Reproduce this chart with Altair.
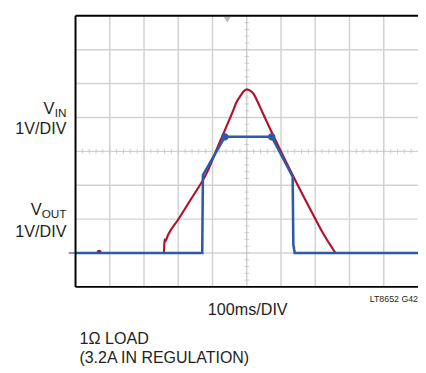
import altair as alt
import pandas as pd
import numpy as np

# Oscilloscope trace data (x in divisions of 100ms, y in divisions of 1V)
vin_x = [0, 0.64, 0.66, 0.72, 0.74, 2.58, 2.60, 2.62, 2.70, 3.0, 3.36, 3.84, 4.2,
         4.59, 4.7, 4.83, 4.9, 5.0, 5.1, 5.2, 5.3, 5.45, 5.9, 6.39, 6.85, 7.24, 7.45, 7.62, 10]
vin_y = [1, 1, 1.06, 1.06, 1, 1, 1.40, 1.34, 1.53, 1.99, 2.57, 3.38, 4.25,
         5.17, 5.45, 5.66, 5.76, 5.83, 5.79, 5.70, 5.5, 5.17, 4.2, 3.20, 2.30, 1.56, 1.22, 1.0, 1.0]
vout_x = [0, 3.70, 3.72, 4.36, 5.73, 6.34, 6.36, 6.40, 10]
vout_y = [1, 1, 3.30, 4.43, 4.43, 3.25, 1.25, 1.0, 1]
dot_x = [4.36, 5.73]
dot_y = [4.43, 4.43]

grid_x = list(range(1, 10))
grid_y = list(range(1, 8))
minor_x = [round(v, 1) for v in np.arange(0.2, 10, 0.2)]
minor_y = [round(v, 1) for v in np.arange(0.2, 8, 0.2)]

RED = "#b3102e"
BLUE = "#2c59a8"
GRID = "#d2d2d2"
FONT = "Liberation Sans, Arial, sans-serif"

W, H = 350, 277
xs = alt.Scale(domain=[0, 10], nice=False, zero=False)
ys = alt.Scale(domain=[0, 8], nice=False, zero=False)
X = lambda f: alt.X(f, type="quantitative", scale=xs, axis=None)
Y = lambda f: alt.Y(f, type="quantitative", scale=ys, axis=None)

vgrid = alt.Chart(pd.DataFrame({"x": grid_x})).mark_rule(color=GRID, strokeWidth=1.5).encode(
    x=X("x"), y=alt.value(0), y2=alt.value(H))
hgrid = alt.Chart(pd.DataFrame({"y": grid_y})).mark_rule(color=GRID, strokeWidth=1.5).encode(
    y=Y("y"), x=alt.value(0), x2=alt.value(W))
mtx = alt.Chart(pd.DataFrame({"x": minor_x, "y": [4] * len(minor_x)})).mark_tick(
    orient="vertical", size=5, thickness=1, color="#bdbdbd").encode(x=X("x"), y=Y("y"))
mty = alt.Chart(pd.DataFrame({"x": [5] * len(minor_y), "y": minor_y})).mark_tick(
    orient="horizontal", size=5, thickness=1, color="#bdbdbd").encode(x=X("x"), y=Y("y"))

frame_l = alt.Chart(pd.DataFrame({"x": [0]})).mark_rule(color="black", strokeWidth=2).encode(
    x=X("x"), y=alt.value(0), y2=alt.value(H))
frame_h = alt.Chart(pd.DataFrame({"y": [0, 8]})).mark_rule(color="black", strokeWidth=2).encode(
    y=Y("y"), x=alt.value(0), x2=alt.value(W + 5))

tri = alt.Chart(pd.DataFrame({"x": [4.43], "y": [7.88]})).mark_point(
    shape="triangle-down", filled=True, color="#bbbbbb", size=45, opacity=1).encode(x=X("x"), y=Y("y"))

gnd = alt.Chart(pd.DataFrame({"x": [-0.2, 0], "y": [1, 1]})).mark_line(
    color="#7a66aa", strokeWidth=1.5).encode(x=X("x"), y=Y("y"))

vin = alt.Chart(pd.DataFrame({"x": vin_x, "y": vin_y, "o": range(len(vin_x))})).mark_line(
    color=RED, strokeWidth=2.2, interpolate="monotone").encode(x=X("x"), y=Y("y"), order="o:Q")
vout = alt.Chart(pd.DataFrame({"x": vout_x, "y": vout_y, "o": range(len(vout_x))})).mark_line(
    color=BLUE, strokeWidth=2.6).encode(x=X("x"), y=Y("y"), order="o:Q")
dots = alt.Chart(pd.DataFrame({"x": dot_x, "y": dot_y})).mark_circle(
    color=BLUE, size=55, opacity=1).encode(x=X("x"), y=Y("y"))


def txt(s, x, y, size, align="left"):
    return alt.Chart(pd.DataFrame({"t": [s]})).mark_text(
        font=FONT, fontSize=size, align=align, baseline="alphabetic", color="#231f20").encode(
        text="t:N", x=alt.value(x), y=alt.value(y))


texts = [
    txt("V", -21.6, 100, 16.8, "right"), txt("IN", -9.3, 103, 12, "right"),
    txt("1V/DIV", -9.3, 121, 16.5, "right"),
    txt("V", -34.6, 204, 16.8, "right"), txt("OUT", -9.3, 207, 12, "right"),
    txt("1V/DIV", -9.3, 225.7, 16.5, "right"),
    txt("100ms/DIV", 176, 305.7, 16.5, "center"),
    txt("LT8652 G42", 300.7, 292, 9),
    txt("1\u03a9 LOAD", 4, 335.7, 16.5),
    txt("(3.2A IN REGULATION)", 4, 355, 16.3),
]

chart = alt.layer(vgrid, hgrid, mtx, mty, tri, gnd, vin, vout, dots, frame_l, frame_h, *texts).properties(
    width=W, height=H,
    autosize=alt.AutoSizeParams(type="none"),
    padding={"left": 69, "top": 4, "right": 0, "bottom": 84},
).configure_view(stroke=None)

chart.save("out.html", embed_options={"renderer": "svg", "actions": False})
